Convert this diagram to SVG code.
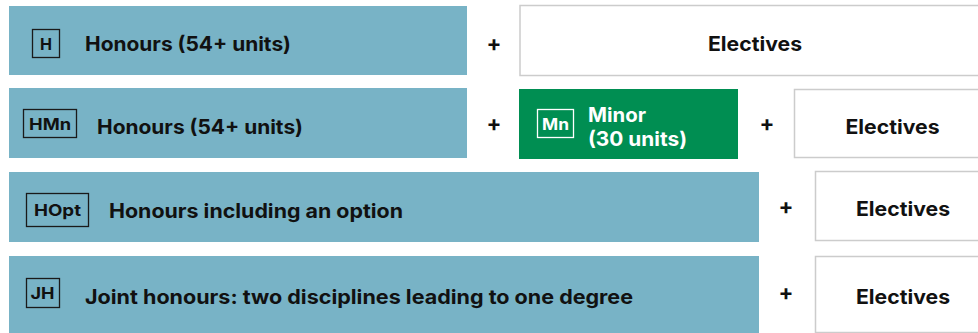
<svg xmlns="http://www.w3.org/2000/svg" width="978" height="333" viewBox="0 0 978 333">
<style>
.bar{fill:#78b3c6}
.el{fill:#fff;stroke:#cccccc;stroke-width:1.5}
.minor{fill:#008e52}
.badge{fill:none;stroke:#1a1a1a;stroke-width:1.3}
.badgew{fill:none;stroke:#fff;stroke-width:1.3}
text{font-family:Inter,"Liberation Sans",Arial,sans-serif;font-weight:bold;fill:#111}
.lbl{font-size:20px}
.bt{font-size:16px}
.plus{font-size:22px;text-anchor:middle}
.elt{font-size:20px}
.w{fill:#fff}
</style>
<rect width="978" height="333" fill="#fff"/>
<g id="row-h">
<rect class="bar" x="9" y="6" width="458" height="69"/>
<rect class="badge" x="32.5" y="29.5" width="27" height="28"/>
<text class="bt" x="40" y="49.5" textLength="12" lengthAdjust="spacingAndGlyphs">H</text>
<text class="lbl" x="85" y="51" textLength="206" lengthAdjust="spacingAndGlyphs">Honours (54+ units)</text>
</g>
<g id="plus-1"><text class="plus" x="494" y="51">+</text></g>
<g id="el-1">
<rect class="el" x="520" y="5.5" width="460" height="70"/>
<text class="elt" x="708" y="51" textLength="94" lengthAdjust="spacingAndGlyphs">Electives</text>
</g>
<g id="row-hmn">
<rect class="bar" x="9" y="88" width="458" height="70"/>
<rect class="badge" x="23.5" y="109.5" width="53" height="28"/>
<text class="bt" x="29" y="130" textLength="42" lengthAdjust="spacingAndGlyphs">HMn</text>
<text class="lbl" x="97" y="133.5" textLength="206" lengthAdjust="spacingAndGlyphs">Honours (54+ units)</text>
</g>
<g id="plus-2"><text class="plus" x="494" y="131">+</text></g>
<g id="minor">
<rect class="minor" x="519" y="89" width="219" height="70"/>
<rect class="badgew" x="537.5" y="109.5" width="36" height="28"/>
<text class="bt w" x="542" y="130" textLength="27" lengthAdjust="spacingAndGlyphs">Mn</text>
<text class="lbl w" x="588" y="122" textLength="58" lengthAdjust="spacingAndGlyphs">Minor</text>
<text class="lbl w" x="588" y="146" textLength="99" lengthAdjust="spacingAndGlyphs">(30 units)</text>
</g>
<g id="plus-3"><text class="plus" x="767" y="131">+</text></g>
<g id="el-2">
<rect class="el" x="794.5" y="89.5" width="190" height="68"/>
<text class="elt" x="845.5" y="134" textLength="94" lengthAdjust="spacingAndGlyphs">Electives</text>
</g>
<g id="row-hopt">
<rect class="bar" x="9" y="172" width="750" height="70"/>
<rect class="badge" x="26.5" y="193.5" width="62" height="33"/>
<text class="bt" x="34" y="215.5" textLength="47" lengthAdjust="spacingAndGlyphs">HOpt</text>
<text class="lbl" x="109" y="218" textLength="294" lengthAdjust="spacingAndGlyphs">Honours including an option</text>
</g>
<g id="plus-4"><text class="plus" x="786" y="214">+</text></g>
<g id="el-3">
<rect class="el" x="815.5" y="171.5" width="170" height="69"/>
<text class="elt" x="856" y="216" textLength="94" lengthAdjust="spacingAndGlyphs">Electives</text>
</g>
<g id="row-jh">
<rect class="bar" x="9" y="256" width="750" height="77"/>
<rect class="badge" x="26.5" y="278.5" width="33" height="29"/>
<text class="bt" x="30.5" y="299" textLength="24" lengthAdjust="spacingAndGlyphs">JH</text>
<text class="lbl" x="85" y="303.5" textLength="548" lengthAdjust="spacingAndGlyphs">Joint honours: two disciplines leading to one degree</text>
</g>
<g id="plus-5"><text class="plus" x="786" y="300">+</text></g>
<g id="el-4">
<rect class="el" x="815.5" y="256.5" width="170" height="76"/>
<text class="elt" x="856" y="304" textLength="94" lengthAdjust="spacingAndGlyphs">Electives</text>
</g>
</svg>
